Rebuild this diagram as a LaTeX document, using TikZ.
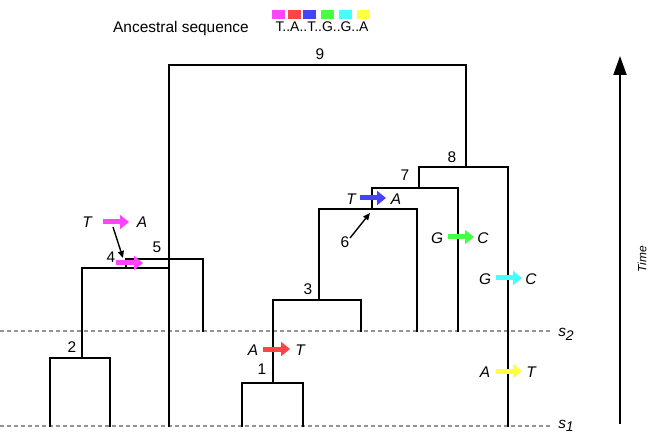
\documentclass[tikz,border=0pt]{standalone}
\usepackage{fontspec}
\setmainfont{Liberation Sans}
\usetikzlibrary{arrows.meta}
\definecolor{cpink}{HTML}{FF44FF}
\definecolor{cred}{HTML}{FF4444}
\definecolor{cblue}{HTML}{4444FF}
\definecolor{cgreen}{HTML}{44FF44}
\definecolor{ccyan}{HTML}{44FFFF}
\definecolor{cyel}{HTML}{FFFF44}
\tikzset{
  branch/.style={line width=2.8bp, line cap=rect},
  sampleline/.style={gray!85, line width=1.2bp, dash pattern=on 4bp off 3bp},
  mut/.style={line width=5bp, -{Triangle[length=9bp,width=14bp]}},
  lbl/.style={font=\fontsize{15.5}{17}\selectfont, inner sep=0pt},
  ilbl/.style={font=\fontsize{15.5}{17}\selectfont\itshape, inner sep=0pt},
  sq/.style={minimum width=13bp, minimum height=9bp, inner sep=0pt},
  pointer/.style={line width=1.4bp, -{Triangle[length=7bp,width=6bp]}}
}
\begin{document}
\begin{tikzpicture}[x=1bp,y=-1bp]
\useasboundingbox (0,0) rectangle (648,436);
% sampling lines
\coordinate (s2a) at (0,331); \coordinate (s2b) at (552,331);
\coordinate (s1a) at (0,426); \coordinate (s1b) at (552,426);
\draw[sampleline] (s2a) -- (s2b);
\draw[sampleline] (s1a) -- (s1b);
\node[ilbl] (s2) at (566,334) {s\raisebox{-4bp}{\fontsize{14}{14}\selectfont 2}};
\node[ilbl] (s1) at (566,426) {s\raisebox{-3bp}{\fontsize{14}{14}\selectfont 1}};
% tree
\coordinate (n9l) at (169,65); \coordinate (n9r) at (466,65);
\coordinate (n5l) at (126,259); \coordinate (n5r) at (203,259);
\coordinate (n4) at (126,268); \coordinate (n4l) at (82,268); \coordinate (n4r) at (169,268);
\coordinate (n2l) at (50,358); \coordinate (n2r) at (110,358); \coordinate (n2m) at (82,358);
\coordinate (n8l) at (419,167); \coordinate (n8r) at (508,167); \coordinate (n8m) at (466,167);
\coordinate (n7l) at (372,188); \coordinate (n7r) at (458,188); \coordinate (n7m) at (419,188);
\coordinate (n6l) at (319,209); \coordinate (n6r) at (417,209); \coordinate (n6m) at (372,209);
\coordinate (n3l) at (273,300); \coordinate (n3r) at (361,300); \coordinate (n3m) at (319,300);
\coordinate (n1l) at (242,383); \coordinate (n1r) at (303,383); \coordinate (n1m) at (273,383);
\draw[branch] (n9l |- s1a) -- (n9l) -- (n9r) -- (n8m);
\draw[branch] (n4) -- (n5l) -- (n5r) -- (n5r |- s2a);
\draw[branch] (n2m) -- (n4l) -- (n4r);
\draw[branch] (n2l |- s1a) -- (n2l) -- (n2r) -- (n2r |- s1a);
\draw[branch] (n8r |- s1a) -- (n8r) -- (n8l) -- (n7m);
\draw[branch] (n6m) -- (n7l) -- (n7r) -- (n7r |- s2a);
\draw[branch] (n3m) -- (n6l) -- (n6r) -- (n6r |- s2a);
\draw[branch] (n1m) -- (n3l) -- (n3r) -- (n3r |- s2a);
\draw[branch] (n1l |- s1a) -- (n1l) -- (n1r) -- (n1r |- s1a);
% node labels
\node[lbl] (l9) at (320,54) {9};
\node[lbl] (l8) at (452,157) {8};
\node[lbl] (l7) at (405,175) {7};
\node[lbl] (l6) at (345,242) {6};
\node[lbl] (l5) at (157,247) {5};
\node[lbl] (l4) at (111,257) {4};
\node[lbl] (l3) at (308,289) {3};
\node[lbl] (l2) at (72,347) {2};
\node[lbl] (l1) at (262,369) {1};
% mutations
\coordinate (pA) at (103,222); \coordinate (pB) at (129,222);
\draw[mut, cpink] (pA) -- (pB);
\node[ilbl] (pT) at (87,222) {T};
\node[ilbl] (pAA) at (142,222) {A};
\coordinate (qA) at (116,263); \coordinate (qB) at (143,263);
\draw[mut, cpink] (qA) -- (qB);
\coordinate (ka) at (113,227); \coordinate (kb) at (123,258);
\draw[pointer] (ka) -- (kb);
\coordinate (bA) at (360,198); \coordinate (bB) at (386,198);
\draw[mut, cblue] (bA) -- (bB);
\node[ilbl] (bT) at (351,199) {T};
\node[ilbl] (bAA) at (396,199) {A};
\coordinate (ma) at (350,238); \coordinate (mb) at (370,213);
\draw[pointer] (ma) -- (mb);
\coordinate (gA) at (448,237); \coordinate (gB) at (474,237);
\draw[mut, cgreen] (gA) -- (gB);
\node[ilbl] (gG) at (437,238) {G};
\node[ilbl] (gC) at (483,238) {C};
\coordinate (cA) at (496,278); \coordinate (cB) at (522,278);
\draw[mut, ccyan] (cA) -- (cB);
\node[ilbl] (cG) at (485,279) {G};
\node[ilbl] (cC) at (531,279) {C};
\coordinate (yA) at (496,371); \coordinate (yB) at (522,371);
\draw[mut, cyel] (yA) -- (yB);
\node[ilbl] (yAA) at (485,372) {A};
\node[ilbl] (yT) at (531,372) {T};
\coordinate (rA) at (263,349); \coordinate (rB) at (290,349);
\draw[mut, cred] (rA) -- (rB);
\node[ilbl] (rAA) at (253,350) {A};
\node[ilbl] (rT) at (300,350) {T};
% ancestral sequence
\node[lbl, anchor=base] (anc) at (181,33) {Ancestral sequence};
\node[font=\fontsize{14}{16}\selectfont, inner sep=0pt, anchor=base] (seq) at (322,32) {T..A..T..G..G..A};
\node[sq, fill=cpink] (q1) at (278.5,14.5) {};
\node[sq, fill=cred] (q2) at (294.5,14.5) {};
\node[sq, fill=cblue] (q3) at (309.5,14.5) {};
\node[sq, fill=cgreen] (q4) at (327.5,14.5) {};
\node[sq, fill=ccyan] (q5) at (345.5,14.5) {};
\node[sq, fill=cyel] (q6) at (363.5,14.5) {};
% time axis
\coordinate (t0) at (620,424); \coordinate (t1) at (620,56);
\draw[line width=2bp, -{Triangle[length=19bp,width=13bp]}] (t0) -- (t1);
\node[font=\fontsize{12}{14}\selectfont\itshape, inner sep=0pt, rotate=90] (time) at (642,259) {Time};
\end{tikzpicture}
\end{document}
